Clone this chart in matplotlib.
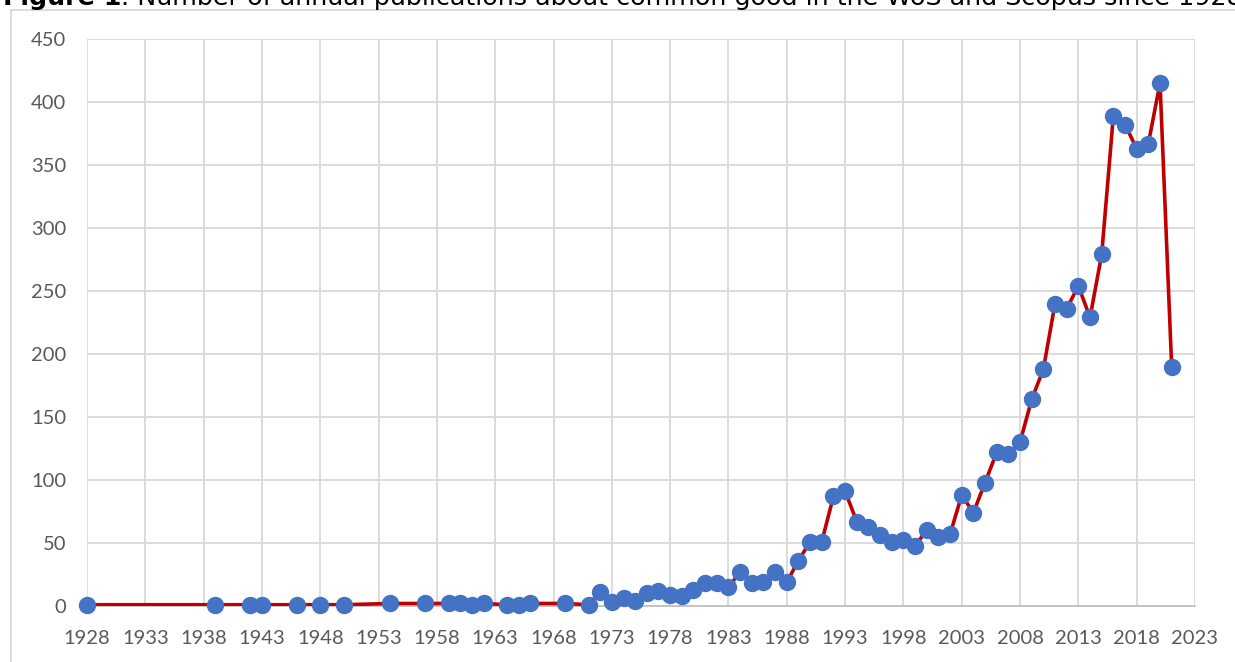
import matplotlib
matplotlib.use("Agg")
import matplotlib.pyplot as plt
from matplotlib.lines import Line2D

# annual publication counts
years = [1928, 1939, 1942, 1943, 1946, 1948, 1950, 1954, 1957, 1959, 1960, 1961,
         1962, 1964, 1965, 1966, 1969, 1971, 1972, 1973, 1974, 1975, 1976, 1977,
         1978, 1979, 1980, 1981, 1982, 1983, 1984, 1985, 1986, 1987, 1988, 1989,
         1990, 1991, 1992, 1993, 1994, 1995, 1996, 1997, 1998, 1999, 2000, 2001,
         2002, 2003, 2004, 2005, 2006, 2007, 2008, 2009, 2010, 2011, 2012, 2013,
         2014, 2015, 2016, 2017, 2018, 2019, 2020, 2021]
counts = [1, 1, 1, 1, 1, 1, 1, 2, 2, 2, 2, 1,
          2, 1, 1, 2, 2, 1, 11, 3, 6, 4, 10, 12,
          9, 8, 13, 18, 18, 15, 27, 18, 19, 27, 19, 36,
          51, 51, 87, 91, 67, 63, 56, 51, 52, 48, 60, 55,
          57, 88, 74, 98, 122, 121, 130, 164, 188, 240, 236, 254,
          229, 279, 389, 382, 363, 367, 415, 190]

xticks = list(range(1928, 2024, 5))
yticks = list(range(0, 451, 50))

title_bold = "Figure 1"
title_rest = ". Number of annual publications about common good in the WoS and Scopus since 1928"

fig = plt.figure(figsize=(12.35, 6.62), dpi=100)
ax = fig.add_axes([87 / 1235, 1 - 606 / 662, (1195 - 87) / 1235, (606 - 39) / 662])

ax.plot(years, counts, color="#C00000", lw=2.6, zorder=3)
ax.plot(years, counts, "o", color="#4472C4", ms=11.5, mec="#4472C4", zorder=4,
        clip_on=False)

ax.set_xlim(1928, 2023)
ax.set_ylim(0, 450)
ax.set_xticks(xticks)
ax.set_yticks(yticks)
ax.grid(True, color="#d9d9d9", lw=1.3)
ax.set_axisbelow(True)
for s in ["top", "right", "left"]:
    ax.spines[s].set_visible(False)
ax.spines["bottom"].set_color("#bfbfbf")
ax.spines["bottom"].set_linewidth(1.3)
ax.tick_params(length=0, labelsize=14.5, labelcolor="#595959")
ax.tick_params(axis="x", pad=17)
ax.tick_params(axis="y", pad=15)
for lab in ax.get_xticklabels() + ax.get_yticklabels():
    lab.set_family("Lato")

# chart area border (runs off the right and bottom edges)
fig.add_artist(Line2D([11 / 1235, 11 / 1235], [0, 1 - 10 / 662], color="#d9d9d9", lw=1.3))
fig.add_artist(Line2D([11 / 1235, 1], [1 - 10 / 662, 1 - 10 / 662], color="#d9d9d9", lw=1.3))

# clipped caption above the chart
t1 = fig.text(3 / 1235, 1 - 5 / 662, title_bold, fontsize=18.3, fontweight="bold",
              family="DejaVu Sans", va="baseline", color="black")
fig.canvas.draw()
bb = t1.get_window_extent(fig.canvas.get_renderer())
fig.text(bb.x1 / 1235, 1 - 5 / 662, title_rest, fontsize=18.3,
         family="DejaVu Sans", va="baseline", color="black")

fig.savefig("out.png", dpi=100)
